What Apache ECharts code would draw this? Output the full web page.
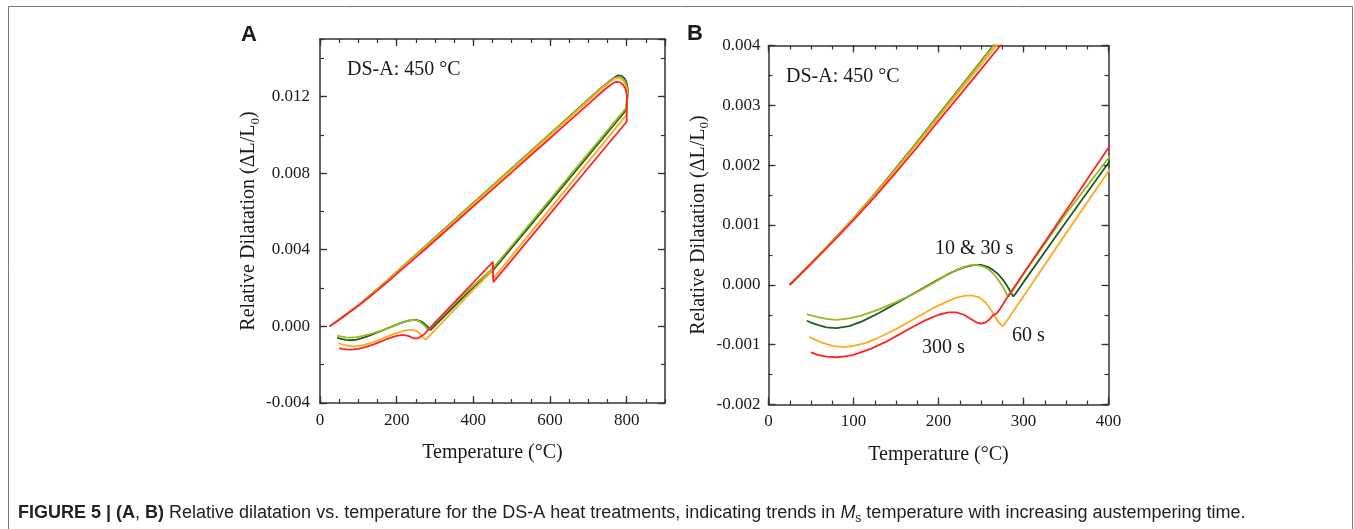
<!DOCTYPE html>
<html>
<head>
<meta charset="utf-8">
<script src="https://cdn.jsdelivr.net/npm/echarts@6/dist/echarts.min.js"></script>
<style>
  html, body { margin: 0; padding: 0; background: #ffffff; }
  #chart { width: 1354px; height: 529px; }
</style>
</head>
<body>
<div id="chart"></div>
<script>
// Dilatation paths as [temperature (°C), ΔL/L0] pairs, in measurement order:
// heating to 800 °C, cooling to the 450 °C hold, then quench to room temperature.
const path10s = [
  [25, 0], [50, 0.00036], [75, 0.00073], [100, 0.00111], [125, 0.00152], [150, 0.00195],
  [175, 0.00239], [200, 0.00284], [225, 0.00329], [250, 0.00374], [275, 0.00419], [300, 0.00464],
  [350, 0.00554], [400, 0.00644], [450, 0.00734], [500, 0.00824], [550, 0.00914], [600, 0.01004],
  [650, 0.01094], [700, 0.01184], [730, 0.01238], [745, 0.01263], [760, 0.01287], [770, 0.01302],
  [778, 0.01310], [787, 0.01308], [795, 0.01293], [801, 0.01265], [803, 0.01235], [802, 0.01195],
  [800, 0.01132],
  [700, 0.00891], [600, 0.00650], [500, 0.00410], [452, 0.00295], [451, 0.00305],
  [400, 0.00204], [350, 0.00105], [300, 0.000045], [294, -0.00008], [290, -0.00016], [288, -0.000195],
  [284, -0.00010], [280, 0.00000], [275, 0.00010], [270, 0.00018], [264, 0.00025], [258, 0.00030],
  [250, 0.000335], [242, 0.00033], [232, 0.00030], [222, 0.00025], [210, 0.00017], [195, 0.00005],
  [180, -0.00007], [165, -0.00019], [150, -0.00031], [130, -0.00047], [110, -0.00061], [95, -0.00069],
  [80, -0.000725], [68, -0.00071], [58, -0.00067], [50, -0.00063], [45, -0.00060]
];

const path30s = [
  [25, 0], [50, 0.00036], [75, 0.00073], [100, 0.00111], [125, 0.00152], [150, 0.00194],
  [175, 0.00238], [200, 0.00283], [225, 0.00328], [250, 0.00373], [275, 0.00418], [300, 0.00463],
  [350, 0.00553], [400, 0.00643], [450, 0.00733], [500, 0.00823], [550, 0.00913], [600, 0.01003],
  [650, 0.01093], [700, 0.01183], [730, 0.01236], [745, 0.01260], [760, 0.01282], [770, 0.01295],
  [777, 0.01299], [786, 0.01296], [794, 0.01282], [800, 0.01255], [802, 0.01225], [801, 0.01185],
  [797, 0.01135],
  [700, 0.00903], [600, 0.00662], [500, 0.00421], [452, 0.00305], [451, 0.00312],
  [400, 0.00212], [350, 0.00119], [300, 0.00018], [290, -0.00004], [285, -0.00014], [282, -0.000206],
  [279, -0.00012], [275, -0.00002], [270, 0.00009], [265, 0.00018], [259, 0.00026], [252, 0.00031],
  [245, 0.00033], [238, 0.00033], [230, 0.00030], [220, 0.00024], [208, 0.00015], [195, 0.00004],
  [180, -0.00008], [165, -0.00019], [150, -0.00029], [130, -0.00041], [110, -0.00051], [95, -0.00056],
  [80, -0.000585], [68, -0.00057], [58, -0.00054], [50, -0.00051], [45, -0.00049]
];

const path60s = [
  [25, 0], [50, 0.00036], [75, 0.00072], [100, 0.00110], [125, 0.00150], [150, 0.00192],
  [175, 0.00235], [200, 0.00280], [225, 0.00324], [250, 0.00368], [275, 0.00412], [300, 0.00457],
  [350, 0.00547], [400, 0.00637], [450, 0.00727], [500, 0.00817], [550, 0.00907], [600, 0.00997],
  [650, 0.01087], [700, 0.01177], [730, 0.01232], [745, 0.01257], [758, 0.01280], [766, 0.01293],
  [774, 0.01298], [783, 0.01295], [792, 0.01280], [799, 0.01250], [802, 0.01215], [801, 0.01160],
  [800, 0.01105],
  [700, 0.00859], [600, 0.00613], [500, 0.00368], [452, 0.00250], [451, 0.00295],
  [400, 0.00190], [350, 0.00086], [300, -0.00019], [290, -0.00040], [282, -0.00057], [278, -0.00065],
  [276, -0.00069], [273, -0.00066], [270, -0.00061], [266, -0.00052], [261, -0.00040], [255, -0.00029],
  [248, -0.00021], [240, -0.00018], [232, -0.00018], [222, -0.00021], [210, -0.00028], [195, -0.00038],
  [180, -0.00050], [165, -0.00062], [150, -0.00074], [130, -0.00088], [115, -0.00097], [100, -0.00102],
  [88, -0.00104], [75, -0.00102], [62, -0.00096], [55, -0.00092], [48, -0.00087]
];

const path300s = [
  [25, 0], [50, 0.00035], [75, 0.00071], [100, 0.00108], [125, 0.00147], [150, 0.00188],
  [175, 0.00230], [200, 0.00274], [225, 0.00317], [250, 0.00360], [275, 0.00404], [300, 0.00448],
  [350, 0.00537], [400, 0.00626], [450, 0.00715], [500, 0.00804], [550, 0.00893], [600, 0.00982],
  [650, 0.01071], [700, 0.01160], [732, 0.01218], [745, 0.01240], [758, 0.01260], [766, 0.01271],
  [773, 0.01276], [782, 0.01274], [790, 0.01262], [797, 0.01240], [801, 0.01205], [800, 0.01140],
  [800, 0.01068],
  [700, 0.00828], [600, 0.00587], [500, 0.00346], [452, 0.00231], [451, 0.00337],
  [400, 0.00229], [350, 0.00124], [300, 0.00019], [280, -0.00023], [272, -0.00041], [269, -0.00047],
  [267, -0.00044], [264, -0.00051], [260, -0.00058], [255, -0.00063], [250, -0.00065], [245, -0.00063],
  [238, -0.00057], [230, -0.00050], [221, -0.00046], [212, -0.00046], [200, -0.00050], [185, -0.00059],
  [170, -0.00070], [155, -0.00082], [140, -0.00094], [120, -0.00107], [100, -0.00117], [88, -0.00120],
  [80, -0.00121], [68, -0.00120], [58, -0.00117], [50, -0.00113]
];

const holdTimes = ['10 s', '30 s', '60 s', '300 s'];
const holdPaths = [path10s, path30s, path60s, path300s];
const holdColors = ['#1d5e22', '#96ba1f', '#ffaa1e', '#ff2323'];

// Axis ranges: [min, max, major step, minor step]
const tempRangeA = [0, 900, 200, 50];
const dilRangeA = [-0.004, 0.015, 0.004, 0.002];
const tempRangeB = [0, 400, 100, 25];
const dilRangeB = [-0.002, 0.004, 0.001, 0.0005];

const xTitle = 'Temperature (°C)';
const yTitle = '{m|Relative Dilatation (ΔL/L}{s|0}{m|)}';
const treatmentLabel = 'DS-A: 450 °C';
const curveNotes = ['10 & 30 s', '60 s', '300 s'];

const SERIF = '"Liberation Serif", "Times New Roman", serif';
const SANS = '"Liberation Sans", Arial, sans-serif';
const INK = '#1a1a1a';
const FRAME = '#333333';

const grids = [
  { left: 320, top: 39, width: 345, height: 364 },
  { left: 768.5, top: 45.5, width: 340, height: 359 }
];

function makeAxes(dim, gridIndex, range, labelFmt, labelMargin, showMax, nameGap) {
  const main = dim === 'x' ? 'bottom' : 'left';
  const mirror = dim === 'x' ? 'top' : 'right';
  const base = {
    type: 'value', gridIndex, min: range[0], max: range[1],
    splitLine: { show: false }, axisPointer: { show: false }
  };
  const major = (pos, labelled) => Object.assign({}, base, {
    position: pos, interval: range[2],
    axisLine: { show: true, onZero: false, lineStyle: { color: FRAME, width: 1.5 } },
    axisTick: { show: true, inside: true, length: 7, lineStyle: { color: FRAME, width: 1.3 } },
    axisLabel: {
      show: labelled, margin: labelMargin, fontFamily: SERIF, fontSize: 17, color: INK,
      formatter: labelFmt, showMaxLabel: showMax, showMinLabel: true
    },
    name: labelled ? (dim === 'x' ? xTitle : yTitle) : '',
    nameLocation: 'middle', nameGap: nameGap, nameRotate: dim === 'x' ? 0 : 90,
    nameTextStyle: dim === 'x'
      ? { fontFamily: SERIF, fontSize: 20, color: INK }
      : { rich: {
          m: { fontFamily: SERIF, fontSize: 20, color: INK, lineHeight: 26 },
          s: { fontFamily: SERIF, fontSize: 13, color: INK, lineHeight: 13, verticalAlign: 'bottom' }
        } }
  });
  const minor = (pos) => Object.assign({}, base, {
    position: pos, interval: range[3],
    axisLine: { show: false, onZero: false },
    axisTick: { show: true, inside: true, length: 4, lineStyle: { color: FRAME, width: 1.2 } },
    axisLabel: { show: false }
  });
  return [major(main, true), major(mirror, false), minor(main), minor(mirror)];
}

const fmtDil = v => v.toFixed(3);
const fmtTemp = v => String(Math.round(v));

const xAxes = [].concat(
  makeAxes('x', 0, tempRangeA, fmtTemp, 9, false, 40),
  makeAxes('x', 1, tempRangeB, fmtTemp, 9, true, 40)
);
const yAxes = [].concat(
  makeAxes('y', 0, dilRangeA, fmtDil, 10, false, 58),
  makeAxes('y', 1, dilRangeB, fmtDil, 8, true, 57)
);

const series = [];
[0, 1].forEach(panel => {
  holdPaths.forEach((path, i) => {
    series.push({
      type: 'line', name: holdTimes[i],
      xAxisIndex: panel * 4, yAxisIndex: panel * 4,
      data: path, showSymbol: false, symbol: 'none', smooth: false, clip: true,
      lineStyle: { color: holdColors[i], width: 1.8 },
      emphasis: { disabled: true }, z: 2 + i
    });
  });
});

function text(x, y, str, font, extra) {
  return Object.assign({
    type: 'text', silent: true, z: 10,
    style: {
      x: x, y: y, text: str, font: font, fill: INK,
      textAlign: 'left', textVerticalAlign: 'middle', verticalAlign: 'middle'
    }
  }, extra || {});
}

const caption = {
  type: 'text', silent: true, z: 10,
  style: {
    x: 18, y: 513, textVerticalAlign: 'middle', verticalAlign: 'middle',
    text: '{b|FIGURE 5 | (A}{n|, }{b|B)}{n| Relative dilatation vs. temperature for the DS-A heat treatments, indicating trends in }{i|M}{sub|s}{n| temperature with increasing austempering time.}',
    rich: {
      b: { fontFamily: SANS, fontSize: 18, fontWeight: 'bold', fill: '#222', lineHeight: 24 },
      n: { fontFamily: SANS, fontSize: 18, fill: '#222', lineHeight: 24 },
      i: { fontFamily: SANS, fontSize: 18, fontStyle: 'italic', fill: '#222', lineHeight: 24 },
      sub: { fontFamily: SANS, fontSize: 12, fill: '#222', lineHeight: 12, verticalAlign: 'bottom' }
    }
  }
};

const chart = echarts.init(document.getElementById('chart'), null, { renderer: 'canvas' });
chart.setOption({
  animation: false,
  backgroundColor: '#ffffff',
  grid: grids.map(g => Object.assign({ containLabel: false, outerBoundsMode: 'none' }, g)),
  xAxis: xAxes,
  yAxis: yAxes,
  series: series,
  graphic: [
    {
      type: 'rect', silent: true, z: 0,
      shape: { x: 8.5, y: 6.5, width: 1344, height: 600 },
      style: { fill: 'none', stroke: '#777777', lineWidth: 1 }
    },
    text(241, 35, 'A', 'bold 22px ' + SANS),
    text(687, 34, 'B', 'bold 22px ' + SANS),
    text(347, 70, treatmentLabel, '20px ' + SERIF),
    text(786, 77, treatmentLabel, '20px ' + SERIF),
    text(935, 249, curveNotes[0], '20px ' + SERIF),
    text(1012, 336, curveNotes[1], '20px ' + SERIF),
    text(922, 348, curveNotes[2], '20px ' + SERIF),
    caption
  ]
});
</script>
</body>
</html>
